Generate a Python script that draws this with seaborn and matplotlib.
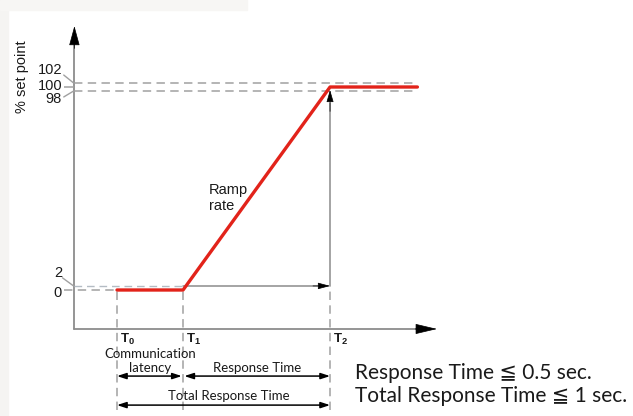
import pandas as pd
import matplotlib.pyplot as plt
import seaborn as sns
from matplotlib.patches import Rectangle

# ramp profile (time in arbitrary units, value in % of set point)
time = [1.0, 2.55, 6.0, 8.05]
setpoint = [0, 0, 100, 100]

t_marks = [1.0, 2.55, 6.0]
t_names = ["0", "1", "2"]

tick_values = [102, 100, 98, 2, 0]
tick_labels = ["102", "100", "98", "2", "0"]

df = pd.DataFrame({"time": time, "setpoint": setpoint})

sns.set_theme(style="white")
plt.rcParams["font.family"] = ["Liberation Sans", "DejaVu Sans"]
plt.rcParams["mathtext.fontset"] = "custom"
plt.rcParams["mathtext.rm"] = "Liberation Sans"
plt.rcParams["mathtext.bf"] = "Liberation Sans:bold"

AXIS = "#8c8c8c"
DASH = "#a0a0a0"
RED = "#e2231a"
TXT = "#1a1a1a"
CAL = ["Lato", "DejaVu Sans"]
ls_dash = (0, (5.5, 3.5))

fig = plt.figure(figsize=(6.33, 4.16), dpi=100)
fig.patches.append(Rectangle((0, 0), 0.013, 1, transform=fig.transFigure,
                             color="#f5f4f2", zorder=0))
fig.patches.append(Rectangle((0, 0.975), 0.39, 0.025, transform=fig.transFigure,
                             color="#f7f6f4", zorder=0))
ax = fig.add_axes([0, 0, 1, 1])
ax.patch.set_alpha(0)

y_axis = -19.2  # level of the time axis
bottom = -59.0

# axes with arrow heads
ax.plot([0, 0], [y_axis, 122], color=AXIS, lw=1.3)
ax.plot([0, 8.1], [y_axis, y_axis], color=AXIS, lw=1.3)
ax.annotate("", xy=(0, 130), xytext=(0, 119),
            arrowprops=dict(arrowstyle="-|>,head_length=1.25,head_width=0.34",
                            color="black", lw=0.5, shrinkA=0, shrinkB=0,
                            mutation_scale=10))
ax.annotate("", xy=(8.51, y_axis), xytext=(8.0, y_axis),
            arrowprops=dict(arrowstyle="-|>,head_length=1.4,head_width=0.33",
                            color="black", lw=0.5, shrinkA=0, shrinkB=0,
                            mutation_scale=10))

# reference dashes around the set point and the start level
ax.hlines([102, 98], 0, time[-1], colors=DASH, lw=1.1, linestyles=[ls_dash])
ax.hlines(100, -0.24, 0, colors=DASH, lw=1.1)
ax.hlines(0, -0.24, t_marks[0], colors=DASH, lw=1.1, linestyles=[ls_dash])
ax.hlines(2, 0, t_marks[1], colors="#b4bcc4", lw=1.0, linestyles=[ls_dash])
ax.plot([-0.25, -0.02], [105.9, 102], color=DASH, lw=1.0)
ax.plot([-0.25, -0.02], [95.1, 98], color=DASH, lw=1.0)
ax.plot([-0.28, -0.02], [6.0, 2], color=DASH, lw=1.0)

# vertical time markers
ax.vlines(t_marks[:2], bottom, 0, colors=DASH, lw=1.1, linestyles=[ls_dash])
ax.vlines(t_marks[2], bottom, 2, colors=DASH, lw=1.1, linestyles=[ls_dash])
ax.plot([t_marks[1], t_marks[2] - 0.2], [2, 2], color=AXIS, lw=1.1)
ax.annotate("", xy=(t_marks[2], 2), xytext=(t_marks[2] - 0.4, 2),
            arrowprops=dict(arrowstyle="-|>,head_length=0.75,head_width=0.2",
                            color="black", lw=0.5, shrinkA=0, shrinkB=0,
                            mutation_scale=10))
ax.plot([t_marks[2], t_marks[2]], [2, 92], color=AXIS, lw=1.1)
ax.annotate("", xy=(t_marks[2], 98.5), xytext=(t_marks[2], 88),
            arrowprops=dict(arrowstyle="-|>,head_length=0.75,head_width=0.22",
                            color="black", lw=0.5, shrinkA=0, shrinkB=0,
                            mutation_scale=10))

# the ramp itself
sns.lineplot(data=df, x="time", y="setpoint", color=RED, lw=2.4, ax=ax,
             zorder=5, legend=False)
ax.set_xlim(-1.746, 13.11)
ax.set_ylim(-62.07, 142.86)
ax.axis("off")

# tick labels
label_y = [108.2, 100.4, 94.2, 8.4, -1.5]
for ly, lab in zip(label_y, tick_labels):
    ax.text(-0.29, ly, lab, ha="right", va="center", fontsize=10.5, color=TXT)
ax.text(-1.22, 105, "% set point", rotation=90, ha="center", va="center",
        fontsize=10.5, color=TXT)

ax.text(3.16, 45.3, "Ramp\nrate", ha="left", va="center", fontsize=10.5,
        color=TXT, linespacing=1.15)

for tm, nm in zip(t_marks, t_names):
    ax.text(tm + 0.06, -24.4, rf"$\mathbf{{T_{nm}}}$", ha="left", va="center",
            fontsize=9.5, color=TXT)

# duration annotations
ax.text(1.78, -31.6, "Communication", ha="center", va="center", fontsize=9.5,
        family=CAL, color=TXT)
ax.text(1.78, -38.6, "latency", ha="center", va="center", fontsize=9.5,
        family=CAL, color=TXT)
ax.text(4.28, -38.6, "Response Time", ha="center", va="center", fontsize=9.5,
        family=CAL, color=TXT)
ax.text(3.62, -52.2, "Total Response Time", ha="center", va="center",
        fontsize=9.5, family=CAL, color=TXT)

dbl = dict(arrowstyle="<|-|>,head_length=0.55,head_width=0.18", color="black",
           lw=1.1, shrinkA=0, shrinkB=0, mutation_scale=10)
ax.annotate("", xy=(t_marks[0], -42.4), xytext=(t_marks[1] - 0.03, -42.4),
            arrowprops=dbl)
ax.annotate("", xy=(t_marks[1] + 0.03, -42.4), xytext=(t_marks[2], -42.4),
            arrowprops=dbl)
ax.annotate("", xy=(t_marks[0], -56.7), xytext=(t_marks[2], -56.7),
            arrowprops=dbl)

ax.text(6.59, -40.9, "Response Time \u2266 0.5 sec.", ha="left", va="center",
        fontsize=15, family=CAL, color=TXT)
ax.text(6.59, -52.3, "Total Response Time \u2266 1 sec.", ha="left",
        va="center", fontsize=15, family=CAL, color=TXT)

fig.savefig("out.png", dpi=100)
